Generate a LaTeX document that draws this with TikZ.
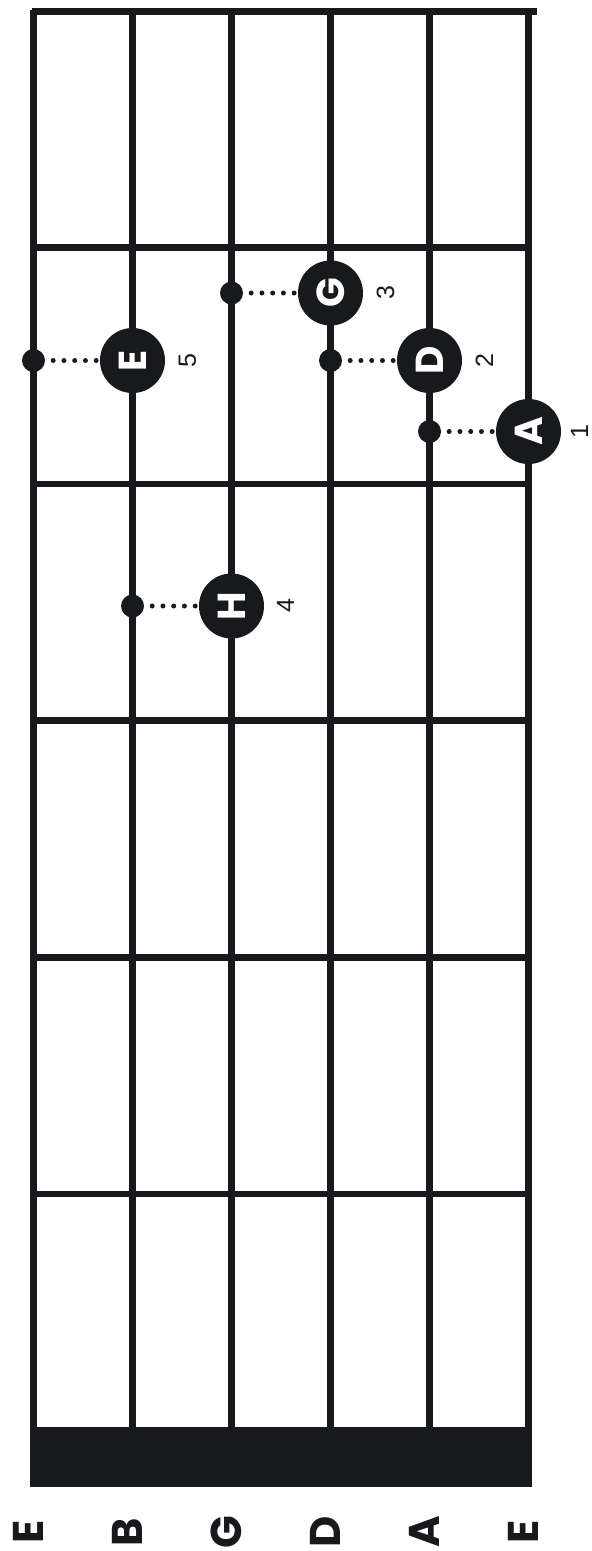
\documentclass[tikz,border=0pt]{standalone}
\usepackage{fontspec}
\newfontfamily\notefont{Poppins}
\newfontfamily\numfont{Liberation Sans}
\definecolor{ink}{HTML}{18191D}

\begin{document}
\begin{tikzpicture}[
            x=1pt, y=-1pt,
            gstring/.style={draw=ink, line width=7.5pt},
            fret/.style={draw=ink, line width=6.7pt},
            note/.style={circle, fill=ink, text=white, inner sep=0pt, minimum size=65pt, rotate=90, font=\notefont\bfseries\fontsize{39}{39}\selectfont},
            fretdot/.style={circle, fill=ink, inner sep=0pt, minimum size=23pt},
            finger/.style={rotate=90, inner sep=0pt, text=ink, font=\numfont\fontsize{25}{25}\selectfont},
            tuning/.style={rotate=90, inner sep=0pt, text=ink, font=\notefont\bfseries\fontsize{43}{43}\selectfont},
            link/.style={draw=ink, line width=5pt, line cap=round, dash pattern=on 0pt off 10.75pt, shorten <=8pt, shorten >=3pt}
        ]
            \useasboundingbox (0,0) rectangle (592,1551);
            % strings
            \foreach \i/\x in {1/33.5, 2/132.5, 3/231.5, 4/330.5, 5/429.5, 6/528.5} {
                \coordinate (top\i) at (\x,10);
                \coordinate (bot\i) at (\x,1430);
            }
            \foreach \i in {1,...,6}
                \draw[gstring] (top\i) -- (bot\i);
            % nut and frets
            \draw[fret] (32,11.7) -- (537,11.7);
            \foreach \y in {247.5, 484.1, 720.7, 957.3, 1194}
                \draw[fret] (top1 |- 0,\y) -- (top6 |- 0,\y);
            \fill[ink] (29.5,1427) rectangle (532,1487);
            % notes
            \node[note] (nE) at (132.5,360.5) {E};
            \node[note] (nG) at (330.5,293) {G};
            \node[note] (nD) at (429.5,360.5) {D};
            \node[note] (nA) at (528.5,431.5) {A};
            \node[note] (nH) at (231.5,606) {H};
            \node[fretdot] (dE) at (33.5,360.5) {};
            \node[fretdot] (dG) at (231.5,293) {};
            \node[fretdot] (dD) at (330.5,360.5) {};
            \node[fretdot] (dA) at (429.5,431.5) {};
            \node[fretdot] (dH) at (132.5,606) {};
            \draw[link] (dE) -- (nE);
            \draw[link] (dG) -- (nG);
            \draw[link] (dD) -- (nD);
            \draw[link] (dA) -- (nA);
            \draw[link] (dH) -- (nH);
            \node[finger] (fE) at ([xshift=55pt]nE.center) {5};
            \node[finger] (fG) at ([xshift=55pt]nG.center) {3};
            \node[finger] (fD) at ([xshift=55pt]nD.center) {2};
            \node[finger] (fA) at ([xshift=51pt]nA.center) {1};
            \node[finger] (fH) at ([xshift=54pt]nH.center) {4};
            % open strings
            \node[tuning] (t1) at (28,1532) {E};
            \node[tuning] (t2) at (127,1532) {B};
            \node[tuning] (t3) at (226,1532) {G};
            \node[tuning] (t4) at (325,1532) {D};
            \node[tuning] (t5) at (424,1532) {A};
            \node[tuning] (t6) at (523,1532) {E};
        \end{tikzpicture}
\end{document}
